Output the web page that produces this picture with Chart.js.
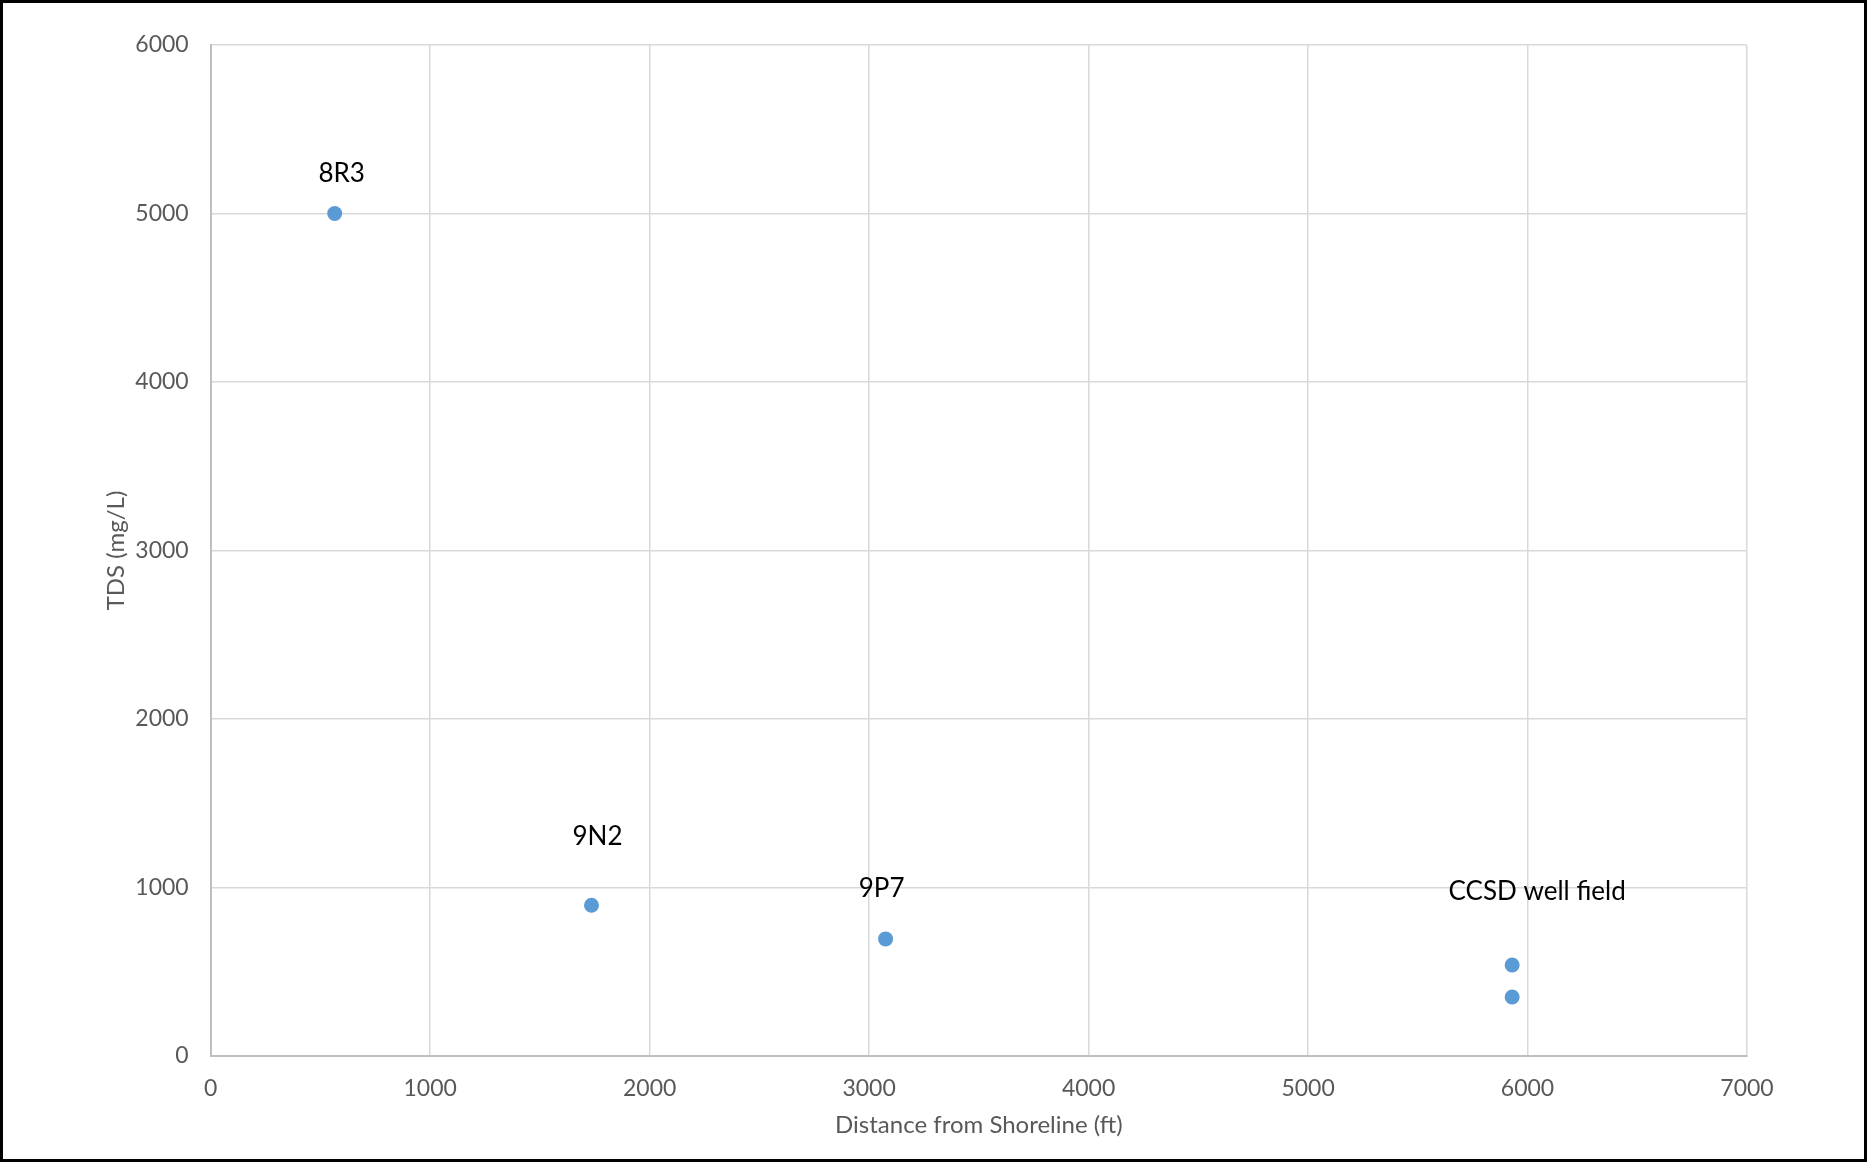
<html><head>
<meta charset="UTF-8">
<title>TDS vs Distance from Shoreline</title>
<style>
  html, body {
    margin: 0;
    padding: 0;
    background: #ffffff;
  }
  #wrap {
    box-sizing: border-box;
    width: 1867px;
    height: 1162px;
    border: 3px solid #000000;
    position: relative;
  }
  canvas {
    display: block;
  }
</style>
<script src="https://cdn.jsdelivr.net/npm/chart.js"></script>
</head>
<body>
<div id="wrap">
  <canvas id="tdsChart" width="1861" height="1156"></canvas>
</div>

<script>
// well data
const wellNames = ['8R3', '9N2', '9P7', 'CCSD well field', ''];
const distanceFt = [565, 1735, 3075, 5930, 5930];
const tdsMgL = [5000, 895, 695, 540, 350];

const xTicks = [0, 1000, 2000, 3000, 4000, 5000, 6000, 7000];
const yTicks = [0, 1000, 2000, 3000, 4000, 5000, 6000];

// where each name sits relative to its dot (px)
const labelShift = [[7, -40], [6, -69], [-4, -50], [25, -73], [0, 0]];

const points = distanceFt.map((d, i) => ({ x: d, y: tdsMgL[i] }));

const pointLabels = {
  id: 'pointLabels',
  afterDatasetsDraw(chart) {
    const ctx = chart.ctx;
    const meta = chart.getDatasetMeta(0);
    ctx.save();
    ctx.font = '26px Lato';
    ctx.fillStyle = '#000000';
    ctx.textAlign = 'center';
    ctx.textBaseline = 'middle';
    meta.data.forEach((pt, i) => {
      if (!wellNames[i]) return;
      ctx.fillText(wellNames[i], pt.x + labelShift[i][0], pt.y + labelShift[i][1]);
    });
    ctx.restore();
  }
};

const plainNumber = v => String(v);

const ctx = document.getElementById('tdsChart').getContext('2d');
new Chart(ctx, {
  type: 'scatter',
  data: {
    datasets: [{
      label: 'TDS',
      data: points,
      backgroundColor: '#5b9bd5',
      borderColor: '#5b9bd5',
      pointRadius: 7.5,
      pointHoverRadius: 7.5,
      borderWidth: 0
    }]
  },
  options: {
    responsive: false,
    animation: false,
    layout: {
      padding: { top: 42, right: 117, left: 0, bottom: 0 }
    },
    plugins: {
      legend: { display: false },
      tooltip: { enabled: false }
    },
    scales: {
      x: {
        type: 'linear',
        min: xTicks[0],
        max: xTicks[xTicks.length - 1],
        afterBuildTicks: s => { s.ticks = xTicks.map(v => ({ value: v })); },
        afterFit: s => { s.height = 103; },
        grid: { color: '#d9d9d9', lineWidth: 1.5, drawTicks: false },
        border: { color: '#bfbfbf', width: 2 },
        ticks: { color: '#595959', font: { family: 'Lato', size: 23 }, padding: 19, maxRotation: 0, callback: plainNumber },
        title: {
          display: true,
          text: 'Distance from Shoreline (ft)',
          color: '#595959',
          font: { family: 'Lato', size: 24 },
          padding: { top: 0, bottom: 19 }
        }
      },
      y: {
        type: 'linear',
        min: yTicks[0],
        max: yTicks[yTicks.length - 1],
        afterBuildTicks: s => { s.ticks = yTicks.map(v => ({ value: v })); },
        afterFit: s => { s.width = 207.7; },
        grid: { color: '#d9d9d9', lineWidth: 1.5, drawTicks: false },
        border: { color: '#bfbfbf', width: 2 },
        ticks: { color: '#595959', font: { family: 'Lato', size: 23 }, padding: 22, callback: plainNumber },
        title: {
          display: true,
          text: 'TDS (mg/L)',
          color: '#595959',
          font: { family: 'Lato', size: 24 },
          padding: { top: 99, bottom: 0 }
        }
      }
    }
  },
  plugins: [pointLabels]
});
</script>
</body></html>
